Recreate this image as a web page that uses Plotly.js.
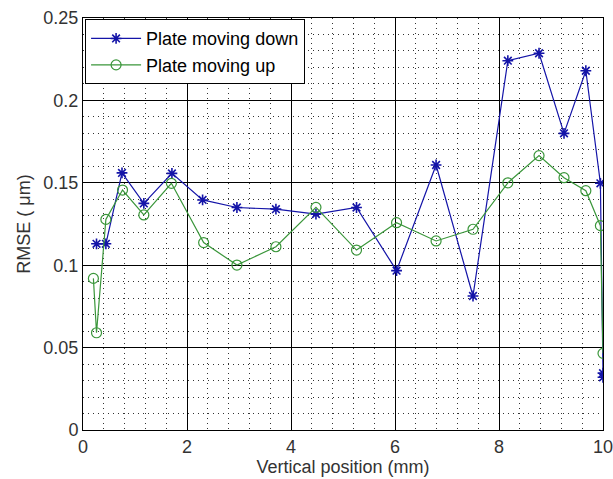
<!DOCTYPE html>
<html>
<head>
<meta charset="utf-8">
<script src="https://cdn.plot.ly/plotly-3.0.1.min.js"></script>
<style>html,body{margin:0;padding:0;background:#fff;}#chart{width:613px;height:479px;}</style>
</head>
<body>
<div id="chart"></div>
<script>
// Plate moving down (blue stars)
var downX = [0.26, 0.44, 0.75, 1.17, 1.71, 2.30, 2.96, 3.71, 4.48, 5.26, 6.03, 6.79, 7.50, 8.17, 8.77, 9.25, 9.67, 9.95, 10.0, 10.0];
var downY = [0.113, 0.113, 0.156, 0.1375, 0.1557, 0.1396, 0.135, 0.134, 0.131, 0.135, 0.0967, 0.1608, 0.0813, 0.2241, 0.2286, 0.180, 0.218, 0.1497, 0.0345, 0.032];
// Plate moving up (green circles)
var upX = [0.20, 0.26, 0.44, 0.76, 1.17, 1.70, 2.32, 2.96, 3.71, 4.48, 5.26, 6.03, 6.79, 7.50, 8.17, 8.77, 9.25, 9.67, 9.95, 10.0];
var upY = [0.092, 0.059, 0.1278, 0.1456, 0.1305, 0.1497, 0.1137, 0.1001, 0.1112, 0.1351, 0.1092, 0.1258, 0.1147, 0.1218, 0.150, 0.1665, 0.1531, 0.1452, 0.124, 0.0465];
var seriesNames = ["Plate moving down", "Plate moving up"];
var xTitle = "Vertical position (mm)";
var yTitle = "RMSE ( \u03bcm)";

var FONT = "Liberation Sans, Arial, sans-serif";
var traces = [
  {x: downX, y: downY, name: seriesNames[0], type: "scatter", mode: "lines+markers",
   line: {color: "#1414a8", width: 1.2},
   marker: {symbol: "asterisk-open", size: 9, color: "#1414a8", line: {color: "#1414a8", width: 1.6}}},
  {x: upX, y: upY, name: seriesNames[1], type: "scatter", mode: "lines+markers",
   line: {color: "#3a963a", width: 1.2},
   marker: {symbol: "circle-open", size: 10, color: "#3a963a", line: {color: "#3a963a", width: 1.2}}}
];
var axisCommon = {
  showline: true, mirror: true, linecolor: "#000", linewidth: 1,
  ticks: "inside", ticklen: 5, tickcolor: "#000",
  showgrid: true, gridcolor: "#000", gridwidth: 1,
  zeroline: false,
  tickfont: {family: FONT, size: 18, color: "#333"},
  ticklabeloverflow: "allow",
  automargin: false
};
var layout = {
  width: 613, height: 479,
  margin: {l: 83, r: 10, t: 18, b: 49},
  paper_bgcolor: "#fff", plot_bgcolor: "#fff",
  showlegend: true,
  legend: {x: 0.004, y: 0.997, xanchor: "left", yanchor: "top",
           bgcolor: "#fff", bordercolor: "#000", borderwidth: 1,
           itemwidth: 50,
           font: {family: FONT, size: 18, color: "#000"}, tracegroupgap: 0},
  xaxis: Object.assign({}, axisCommon, {
    range: [0, 10], dtick: 2, tick0: 0,
    minor: {dtick: 0.4, showgrid: true, gridcolor: "#333", griddash: "1px,4px", gridwidth: 1, ticks: ""},
    title: {text: xTitle, font: {family: FONT, size: 18, color: "#333"}, standoff: 4}
  }),
  yaxis: Object.assign({}, axisCommon, {
    range: [0, 0.25], dtick: 0.05, tick0: 0,
    minor: {dtick: 0.01, showgrid: true, gridcolor: "#333", griddash: "1px,4px", gridwidth: 1, ticks: ""},
    title: {text: yTitle, font: {family: FONT, size: 18, color: "#333"}, standoff: 8}
  })
};
Plotly.newPlot("chart", traces, layout, {staticPlot: true});
</script>
</body>
</html>
